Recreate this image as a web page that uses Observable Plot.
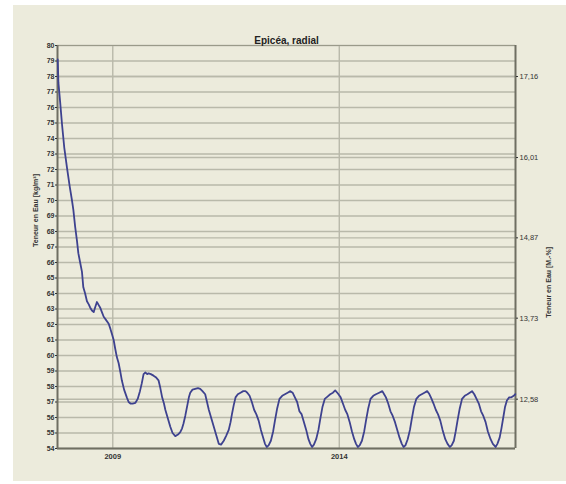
<!DOCTYPE html>
<html><head><meta charset="utf-8">
<script src="https://cdn.jsdelivr.net/npm/d3@7"></script>
<script src="https://cdn.jsdelivr.net/npm/@observablehq/plot@0.6"></script>
<style>
html,body{margin:0;padding:0;background:#fff;}
#chart{position:absolute;left:13px;top:5px;}
</style></head><body><div id="chart"></div>
<script>
const title = "Epicéa, radial";
const leftLabel = "Teneur en Eau [kg/m³]";
const rightLabel = "Teneur en Eau [M.-%]";
const xTicks = [2009, 2014];
const leftTicks = [54,55,56,57,58,59,60,61,62,63,64,65,66,67,68,69,70,71,72,73,74,75,76,77,78,79,80];
const rightTicks = [12.58, 13.73, 14.87, 16.01, 17.16];
const rightFactor = 0.22; // M.-% per kg/m³

const years = [
2007.785,2007.80,2007.84,2007.88,2007.93,2007.99,2008.05,2008.10,2008.13,2008.17,
2008.21,2008.24,2008.28,2008.32,2008.35,2008.39,2008.43,2008.47,2008.50,2008.54,
2008.58,2008.61,2008.65,2008.68,2008.72,2008.76,2008.80,2008.85,2008.91,2008.95,
2008.98,2009.02,2009.05,2009.09,2009.13,2009.17,2009.20,2009.25,2009.31,2009.35,
2009.39,2009.44,2009.50,2009.55,2009.60,2009.64,2009.68,2009.72,2009.76,2009.79,
2009.84,2009.90,2009.95,2010.01,2010.05,2010.09,2010.13,2010.16,2010.21,2010.27,
2010.32,2010.38,2010.44,2010.49,2010.53,2010.56,2010.60,2010.64,2010.68,2010.71,
2010.76,2010.82,2010.88,2010.93,2010.98,2011.04,2011.08,2011.12,2011.17,2011.23,
2011.28,2011.34,2011.39,2011.45,2011.50,2011.56,2011.60,2011.63,2011.67,2011.71,
2011.76,2011.82,2011.88,2011.93,2011.97,
2012.02,2012.07,2012.12,2012.17,2012.22,2012.27,2012.32,2012.36,2012.40,2012.44,
2012.49,2012.54,2012.58,2012.63,2012.68,2012.74,2012.80,2012.86,2012.92,2012.97,
2013.02,2013.07,2013.12,2013.17,2013.22,2013.27,2013.32,2013.36,2013.40,2013.44,
2013.49,2013.54,2013.58,2013.63,2013.68,2013.74,2013.80,2013.86,2013.91,2013.97,
2014.03,2014.08,2014.13,2014.18,2014.23,2014.28,2014.33,2014.37,2014.41,2014.45,
2014.50,2014.55,2014.59,2014.64,2014.69,2014.75,2014.81,2014.88,2014.95,2014.99,
2015.03,2015.08,2015.13,2015.18,2015.23,2015.28,2015.33,2015.38,2015.42,2015.46,
2015.51,2015.56,2015.60,2015.65,2015.70,2015.76,2015.82,2015.88,2015.94,2015.98,
2016.03,2016.08,2016.13,2016.18,2016.23,2016.28,2016.34,2016.39,2016.44,2016.48,
2016.53,2016.57,2016.61,2016.66,2016.71,2016.77,2016.83,2016.88,2016.93,2016.98,
2017.03,2017.08,2017.13,2017.18,2017.23,2017.28,2017.34,2017.39,2017.45,2017.49,
2017.54,2017.58,2017.62,2017.66,2017.70,2017.75,2017.80,2017.85,2017.885
];
const values = [
79.1,77.6,76.3,74.9,73.4,72.1,70.9,70.0,69.4,68.3,
67.4,66.6,66.0,65.4,64.4,64.0,63.5,63.3,63.1,62.9,
62.8,63.1,63.45,63.3,63.1,62.8,62.5,62.3,62.05,61.7,
61.4,61.0,60.5,59.9,59.5,58.9,58.4,57.8,57.3,57.0,
56.9,56.9,56.95,57.2,57.7,58.2,58.8,58.9,58.8,58.85,
58.8,58.7,58.6,58.4,57.9,57.3,56.9,56.5,56.0,55.4,
55.0,54.8,54.9,55.05,55.3,55.6,56.1,56.7,57.3,57.6,
57.8,57.85,57.9,57.85,57.7,57.5,57.0,56.5,56.0,55.4,
54.9,54.3,54.25,54.5,54.8,55.2,55.7,56.2,56.8,57.3,
57.5,57.6,57.7,57.7,57.6,
57.4,57.0,56.5,56.2,55.8,55.2,54.7,54.3,54.1,54.2,
54.5,55.1,55.8,56.6,57.2,57.4,57.5,57.6,57.7,57.6,
57.3,57.0,56.4,56.2,55.7,55.2,54.6,54.3,54.1,54.25,
54.6,55.2,55.9,56.7,57.2,57.35,57.5,57.6,57.75,57.55,
57.3,56.9,56.5,56.2,55.7,55.1,54.6,54.3,54.1,54.2,
54.5,55.1,55.8,56.6,57.2,57.4,57.5,57.6,57.7,57.5,
57.3,56.9,56.4,56.1,55.7,55.2,54.7,54.3,54.1,54.2,
54.6,55.2,55.9,56.7,57.2,57.4,57.5,57.6,57.7,57.55,
57.25,56.9,56.5,56.2,55.8,55.2,54.6,54.3,54.1,54.2,
54.5,55.1,55.8,56.6,57.2,57.4,57.5,57.6,57.7,57.5,
57.2,56.9,56.4,56.1,55.7,55.1,54.6,54.3,54.1,54.3,
54.7,55.3,56.0,56.7,57.1,57.3,57.3,57.4,57.5
];

const xDomain = [2007.78, 2017.89];
const yDomain = [54, 80];
const rightPos = rightTicks.map(r => r / rightFactor);
const rightMap = new Map(rightPos.map((p, i) => [p, rightTicks[i].toFixed(2).replace(".", ",")]));
const data = years.map((t, i) => ({t, v: values[i]}));
const grid = "#b9b9aa";
const frameColor = "#6f6f62";

const chart = Plot.plot({
  width: 553, height: 476,
  marginLeft: 44, marginRight: 51, marginTop: 40, marginBottom: 33,
  style: {background: "#ecebdc", fontFamily: "'Liberation Sans', Arial, sans-serif", color: "#333", overflow: "visible"},
  x: {domain: xDomain},
  y: {domain: yDomain},
  marks: [
    Plot.ruleY(leftTicks, {stroke: grid, strokeWidth: 1.4}),
    Plot.ruleY(rightPos, {stroke: grid, strokeWidth: 1.4}),
    Plot.ruleX(xTicks, {stroke: grid, strokeWidth: 1.4}),
    Plot.ruleY([yDomain[1]], {stroke: "#9a9a8a", strokeWidth: 1}),
    Plot.ruleY([yDomain[0]], {stroke: frameColor, strokeWidth: 2}),
    Plot.ruleX(xDomain, {stroke: frameColor, strokeWidth: 2}),
    Plot.line(data, {x: "t", y: "v", stroke: "#3e428f", strokeWidth: 1.8}),
    Plot.axisY({anchor: "left", ticks: leftTicks, tickSize: 2, tickPadding: 1, fontSize: 7, fontWeight: "bold", label: null, tickFormat: d => String(d)}),
    Plot.axisY({anchor: "right", ticks: rightPos, tickSize: 2, tickPadding: 2, fontSize: 7.5, label: null, tickFormat: d => rightMap.get(d)}),
    Plot.axisX({ticks: xTicks, tickSize: 0, tickPadding: 5, fontSize: 7.5, fontWeight: "bold", label: null, tickFormat: d => String(d)}),
    Plot.text([title], {frameAnchor: "top", dy: -9, fontSize: 10, fontWeight: "bold", fill: "#222"}),
    Plot.text([leftLabel], {frameAnchor: "left", rotate: -90, dx: -22, fontSize: 7, fontWeight: "bold", fill: "#333"}),
    Plot.text([rightLabel], {frameAnchor: "right", rotate: -90, dx: 33, fontSize: 7, fontWeight: "bold", fill: "#333"})
  ]
});
document.getElementById("chart").appendChild(chart);
</script></body></html>
